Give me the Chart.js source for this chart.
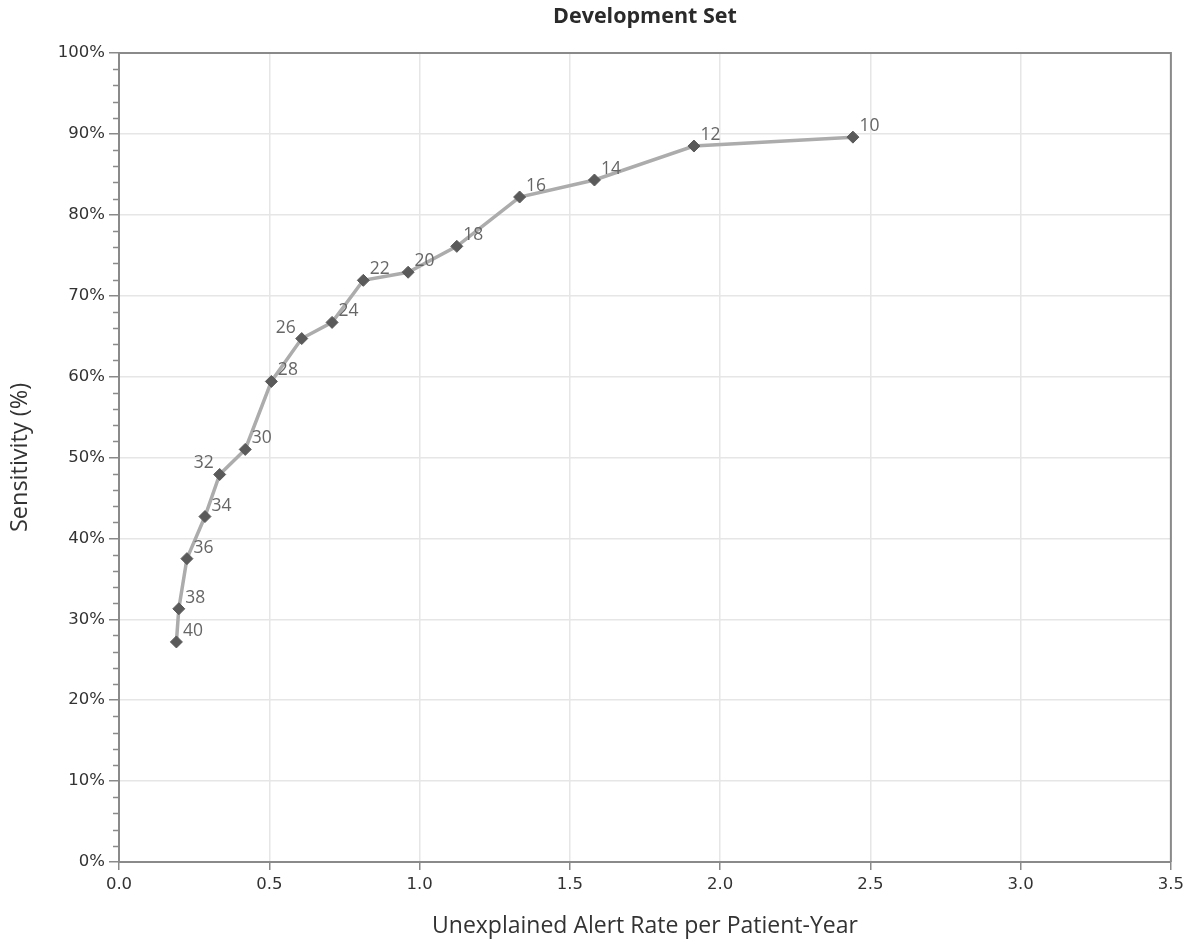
<!DOCTYPE html>
<html>
<head>
<meta charset="utf-8">
<script src="https://cdn.jsdelivr.net/npm/chart.js@4/dist/chart.umd.min.js"></script>
<style>
  html, body { margin: 0; padding: 0; background: #fff; }
</style>
</head>
<body>
<canvas id="sensitivity-chart" width="1189" height="942"></canvas>
<script>
// alert thresholds, lowest alert rate first
const thresholds = ['40', '38', '36', '34', '32', '30', '28', '26', '24', '22', '20', '18', '16', '14', '12', '10'];
const alertRate = [0.191, 0.199, 0.226, 0.286, 0.335, 0.420, 0.507, 0.608, 0.709, 0.813, 0.962, 1.124, 1.333, 1.582, 1.913, 2.442];
const sensitivity = [27.2, 31.3, 37.5, 42.7, 47.9, 51.0, 59.4, 64.7, 66.7, 71.9, 72.9, 76.1, 82.2, 84.3, 88.5, 89.6];
// these two labels sit on the left of their point
const leftLabels = ['32', '26'];

const axisColor = '#8a8a8a';
const gridColor = '#e6e6e6';
const textColor = '#333';

const pointLabels = {
    id: 'pointLabels',
    afterDatasetsDraw(chart) {
        const ctx = chart.ctx;
        const meta = chart.getDatasetMeta(0);
        ctx.save();
        ctx.font = '17.5px "Open Sans"';
        ctx.fillStyle = '#666';
        ctx.textBaseline = 'alphabetic';
        meta.data.forEach((pt, i) => {
            const label = thresholds[i];
            if (leftLabels.includes(label)) {
                ctx.textAlign = 'right';
                ctx.fillText(label, pt.x - 6, pt.y - 6);
            } else {
                ctx.textAlign = 'left';
                ctx.fillText(label, pt.x + 6.5, pt.y - 6);
            }
        });
        ctx.restore();
    }
};

const frame = {
    id: 'frame',
    beforeDatasetsDraw(chart) {
        const {ctx, chartArea} = chart;
        const yScale = chart.scales.y;
        ctx.save();
        ctx.strokeStyle = axisColor;
        ctx.lineWidth = 2;
        ctx.beginPath();
        ctx.moveTo(chartArea.left, chartArea.top);
        ctx.lineTo(chartArea.right, chartArea.top);
        ctx.lineTo(chartArea.right, chartArea.bottom);
        ctx.stroke();

        // minor ticks every 2%
        ctx.lineWidth = 1.5;
        ctx.beginPath();
        for (let v = 2; v < 100; v += 2) {
            if (v % 10 === 0) continue;
            const y = Math.round(yScale.getPixelForValue(v)) + 0.5;
            ctx.moveTo(chartArea.left - 6, y);
            ctx.lineTo(chartArea.left, y);
        }
        ctx.stroke();
        ctx.restore();
    }
};

const ctx = document.getElementById('sensitivity-chart').getContext('2d');
const chart = new Chart(ctx, {
    type: 'line',
    data: {
        datasets: [{
            data: alertRate.map((x, i) => ({x: x, y: sensitivity[i]})),
            borderColor: '#acacac',
            borderWidth: 3.5,
            tension: 0,
            fill: false,
            pointStyle: 'rectRot',
            pointRadius: 6,
            pointBackgroundColor: '#5a5a5a',
            pointBorderColor: '#5a5a5a',
            pointBorderWidth: 1
        }]
    },
    options: {
        responsive: false,
        animation: false,
        layout: {padding: {left: 0, right: 16, top: 0, bottom: 0}},
        plugins: {
            legend: {display: false},
            tooltip: {enabled: false},
            title: {
                display: true,
                fullSize: false,
                text: 'Development Set',
                color: '#2a2a2a',
                font: {family: 'Open Sans', size: 21.5, weight: 'bold'},
                padding: {top: 3.5, bottom: 23.7}
            }
        },
        scales: {
            x: {
                type: 'linear',
                min: 0,
                max: 3.5,
                afterFit(scale) { scale.height = 80; },
                ticks: {
                    stepSize: 0.5,
                    callback: v => v.toFixed(1),
                    color: textColor,
                    font: {family: 'DejaVu Sans', size: 16.5},
                    padding: 5
                },
                grid: {color: gridColor, lineWidth: 1.5, tickLength: 8, tickColor: axisColor, tickWidth: 1.5},
                border: {color: axisColor, width: 2},
                title: {
                    display: true,
                    text: 'Unexplained Alert Rate per Patient-Year',
                    color: textColor,
                    font: {family: 'Open Sans', size: 23},
                    padding: {bottom: 2}
                }
            },
            y: {
                min: 0,
                max: 100,
                afterFit(scale) { scale.width = 119; },
                ticks: {
                    stepSize: 10,
                    callback: v => v + '%',
                    color: textColor,
                    font: {family: 'DejaVu Sans', size: 16.5},
                    padding: 4
                },
                grid: {color: gridColor, lineWidth: 1.5, tickLength: 10, tickColor: axisColor, tickWidth: 1.5},
                border: {color: axisColor, width: 2},
                title: {
                    display: true,
                    text: 'Sensitivity (%)',
                    color: textColor,
                    font: {family: 'Open Sans', size: 23.5},
                    padding: {top: 6}
                }
            }
        }
    },
    plugins: [frame, pointLabels]
});
</script>
</body>
</html>
